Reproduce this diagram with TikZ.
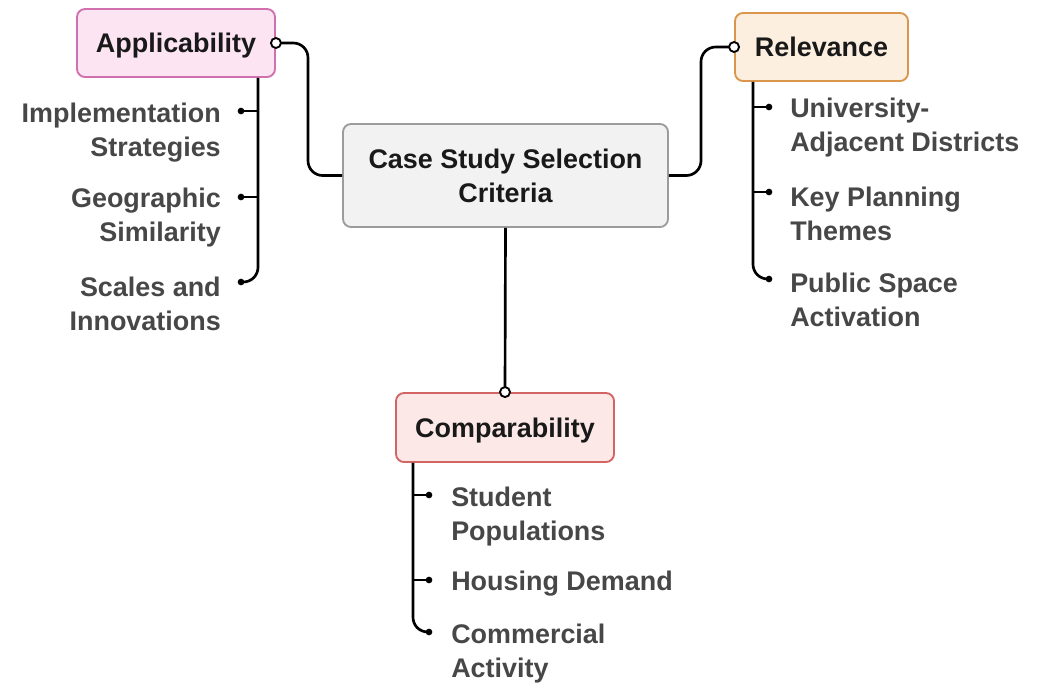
\documentclass[tikz,border=0pt]{standalone}
\usepackage{fontspec}
\setmainfont{Liberation Sans}
\begin{document}
\begin{tikzpicture}[x=0.75pt,y=-0.75pt,
  every node/.style={font=\bfseries\fontsize{20.2}{25.5}\selectfont},
  box/.style={draw, rounded corners=6pt, line width=1.4pt, text=black!90, align=center, inner sep=0pt, text depth=0pt},
  item/.style={text=black!72, inner sep=0pt},
  link/.style={line width=2pt, rounded corners=11pt},
  port/.style={circle, draw, fill=white, line width=1.4pt, minimum size=7.5pt, inner sep=0pt},
  bullet/.style={circle, fill=black, minimum size=5pt, inner sep=0pt}]
\definecolor{appfill}{HTML}{FCE4F3}\definecolor{appline}{HTML}{D070AE}
\definecolor{relfill}{HTML}{FDEFDF}\definecolor{relline}{HTML}{D9964C}
\definecolor{cmpfill}{HTML}{FDE8E8}\definecolor{cmpline}{HTML}{D26464}
\definecolor{ctrfill}{HTML}{F2F2F2}\definecolor{ctrline}{HTML}{9C9C9C}
\useasboundingbox (0,0) rectangle (1040,683);

% main boxes
\node[box, fill=ctrfill, draw=ctrline, minimum width=243.75pt, minimum height=77.25pt] (ctr) at (505.5,175.5) {Case Study Selection\\Criteria};
\node[box, fill=appfill, draw=appline, minimum width=148.5pt, minimum height=51pt] (app) at (176,43) {Applicability};
\node[box, fill=relfill, draw=relline, minimum width=129.75pt, minimum height=51pt] (rel) at (821.5,47) {Relevance};
\node[box, fill=cmpfill, draw=cmpline, minimum width=163.5pt, minimum height=51.75pt] (cmp) at (505,427.5) {Comparability};

% links from the centre to each criterion
\draw[link] (ctr.west) -- (308,175.5) |- (app.east);
\draw[link] (ctr.east) -- (701,175.5) |- (rel.west);
\draw[link] (ctr.south) -- (cmp.north);
\node[port] at (app.east) {};
\node[port] at (rel.west) {};
\node[port] at (cmp.north) {};

% Applicability items
\node[item, anchor=east, align=right] (a1) at (221,133) {Implementation\\Strategies};
\node[item, anchor=east, align=right] (a2) at (221,218) {Geographic\\Similarity};
\node[item, anchor=east, align=right] (a3) at (221,304) {Scales and\\Innovations};
\coordinate (ad1) at (241,111);
\coordinate (ad2) at (241,197);
\coordinate (ad3) at (241,282);
\draw[link] (app.south -| 258,0) -- (258,282) -- (ad3);
\draw[line width=2pt] (258,111) -- (ad1);
\draw[line width=2pt] (258,197) -- (ad2);
\foreach \d in {ad1,ad2,ad3} \node[bullet] at (\d) {};

% Relevance items
\node[item, anchor=west, align=left] (r1) at (790,128) {University-\\Adjacent Districts};
\node[item, anchor=west, align=left] (r2) at (790,214) {Key Planning\\Themes};
\node[item, anchor=west, align=left] (r3) at (790,300) {Public Space\\Activation};
\coordinate (rd1) at (769,107);
\coordinate (rd2) at (769,192);
\coordinate (rd3) at (769,279);
\draw[link] (rel.south -| 753,0) -- (753,279) -- (rd3);
\draw[line width=2pt] (753,107) -- (rd1);
\draw[line width=2pt] (753,192) -- (rd2);
\foreach \d in {rd1,rd2,rd3} \node[bullet] at (\d) {};

% Comparability items
\node[item, anchor=west, align=left] (c1) at (451,517) {Student\\Populations};
\node[item, anchor=west, align=left] (c2) at (451,584) {Housing Demand};
\node[item, anchor=west, align=left] (c3) at (451,654) {Commercial\\Activity};
\coordinate (cd1) at (429,495);
\coordinate (cd2) at (429,580);
\coordinate (cd3) at (429,632);
\draw[link] (cmp.south -| 413,0) -- (413,632) -- (cd3);
\draw[line width=2pt] (413,495) -- (cd1);
\draw[line width=2pt] (413,580) -- (cd2);
\foreach \d in {cd1,cd2,cd3} \node[bullet] at (\d) {};
\end{tikzpicture}
\end{document}
